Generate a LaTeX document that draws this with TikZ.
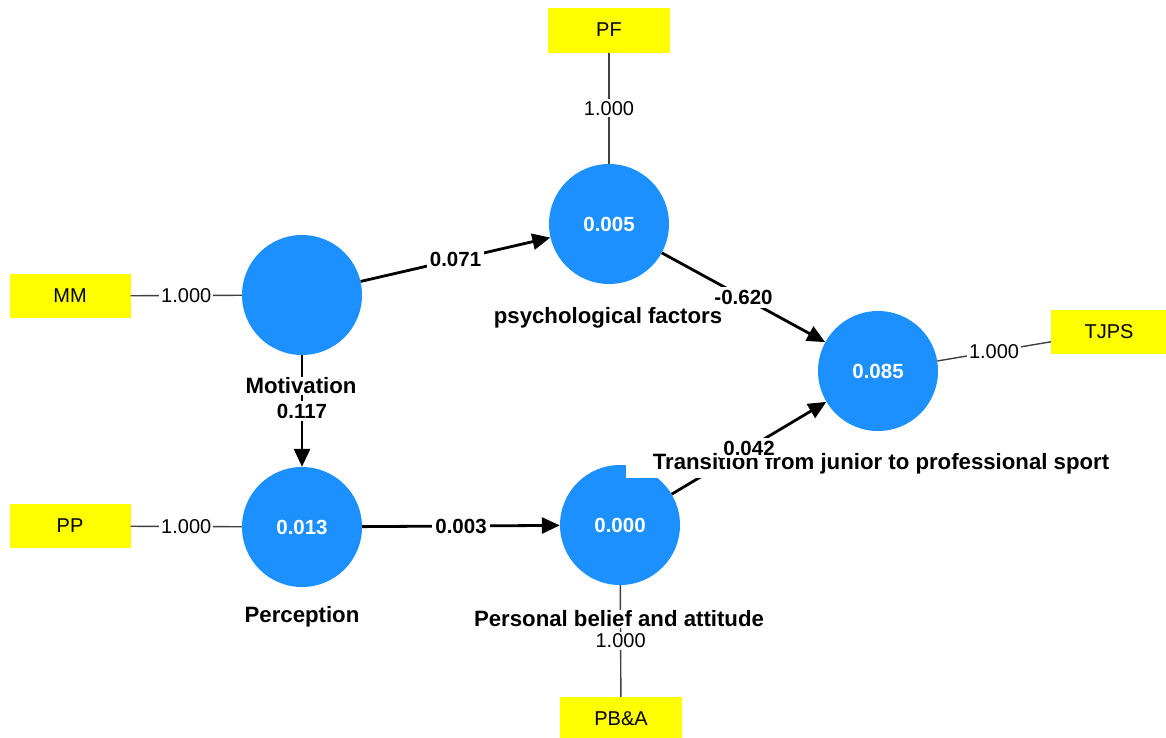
\documentclass[tikz,border=0pt]{standalone}
\usepackage{fontspec}
\setmainfont{Liberation Sans}
\usetikzlibrary{arrows.meta}
\definecolor{lvblue}{RGB}{28,144,255}
\definecolor{indyellow}{RGB}{255,255,0}
\begin{document}
\begin{tikzpicture}[x=1pt,y=-1pt,
  lv/.style={circle, fill=lvblue, minimum size=120pt, inner sep=0pt, text=white, font=\fontsize{20.5}{24}\selectfont\bfseries},
  ind/.style={rectangle, fill=indyellow, minimum width=121pt, minimum height=44pt, inner sep=0pt, font=\fontsize{20}{22}\selectfont},
  lvname/.style={fill=white, inner sep=1pt, font=\fontsize{22.2}{24}\selectfont\bfseries},
  coef/.style={fill=white, inner sep=3pt, font=\fontsize{20.5}{24}\selectfont\bfseries},
  load/.style={fill=white, inner sep=2pt, font=\fontsize{20}{22}\selectfont},
  loadline/.style={draw=black!75, line width=1.4pt},
  pathline/.style={draw=black, line width=2.8pt, -{Triangle[length=18pt,width=16pt]}}]
\useasboundingbox (0,0) rectangle (1166,737);
\fill[white] (0,0) rectangle (1166,737);

% latent variables
\node[lv] (mot) at (302,295) {};
\node[lv] (psy) at (609,224) {0.005};
\node[lv] (per) at (302,527) {0.013};
\node[lv] (pba) at (620,525) {0.000};
\node[lv] (tjps) at (878,371) {0.085};

% indicators
\node[ind] (mm) at (70,296) {MM};
\node[ind] (pp) at (70,526) {PP};
\node[ind, minimum width=122pt, minimum height=45pt] (pf) at (609,30) {PF};
\node[ind, minimum width=116pt] (tj) at (1109,332) {TJPS};
\node[ind, minimum width=122pt] (pb) at (621,719) {PB\&A};

% outer loadings
\draw[loadline] (mm) -- node[load] {1.000} (mot);
\draw[loadline] (pp) -- node[load] {1.000} (per);
\draw[loadline] (pf) -- node[load] {1.000} (psy);
\draw[loadline] (tjps) -- node[load] {1.000} (tj);
\draw[loadline] (pba) -- node[load] {1.000} (pb);

% path coefficients
\draw[pathline] (mot) -- node[coef] {0.071} (psy);
\draw[pathline] (psy) -- node[coef] {-0.620} (tjps);
\draw[pathline] (mot) -- node[coef, pos=0.5] {0.117} (per);
\draw[pathline] (per) -- node[coef] {0.003} (pba);
\draw[pathline] (pba) -- (tjps);

% latent variable names
\node[lvname] (motl) at (301,386) {Motivation};
\node[lvname] (psyl) at (608,318) {psychological factors};
\node[lvname] (perl) at (302,617) {Perception};
\node[lvname] (pbal) at (619,619) {Personal belief and attitude};
\node[lvname, minimum width=510pt, minimum height=29pt, inner sep=0pt] (tjpsl) at (881,463.5) {Transition from junior to professional sport};
\path (pba) -- node[coef] (c042) {0.042} (tjps);
\end{tikzpicture}
\end{document}
